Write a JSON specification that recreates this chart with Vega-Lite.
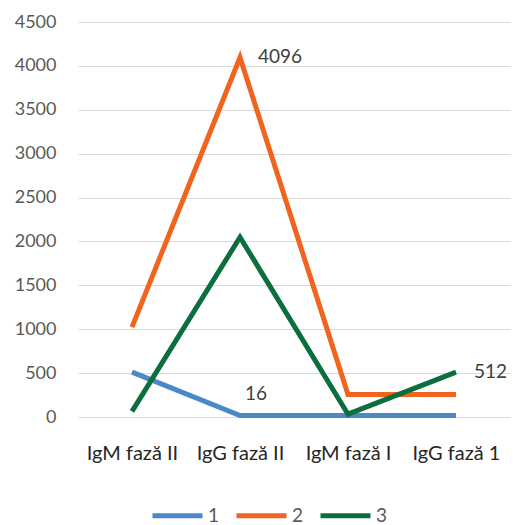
{
  "$schema": "https://vega.github.io/schema/vega-lite/v6.json",
  "autosize": "none",
  "width": 432,
  "height": 395,
  "padding": {"left": 78, "top": 22, "right": 4, "bottom": 108},
  "background": "white",
  "config": {
    "view": {"stroke": null},
    "font": "Lato",
    "axis": {"labelFont": "Lato", "titleFont": "Lato"},
    "legend": {"labelFont": "Lato"}
  },
  "data": {
    "values": [
      {"test": "IgM fază II", "series": "1", "value": 512, "label": null},
      {"test": "IgG fază II", "series": "1", "value": 16, "label": "16"},
      {"test": "IgM fază I", "series": "1", "value": 16, "label": null},
      {"test": "IgG fază 1", "series": "1", "value": 16, "label": null},
      {"test": "IgM fază II", "series": "2", "value": 1024, "label": null},
      {"test": "IgG fază II", "series": "2", "value": 4096, "label": "4096"},
      {"test": "IgM fază I", "series": "2", "value": 256, "label": null},
      {"test": "IgG fază 1", "series": "2", "value": 256, "label": null},
      {"test": "IgM fază II", "series": "3", "value": 64, "label": null},
      {"test": "IgG fază II", "series": "3", "value": 2048, "label": null},
      {"test": "IgM fază I", "series": "3", "value": 32, "label": null},
      {"test": "IgG fază 1", "series": "3", "value": 512, "label": "512"}
    ]
  },
  "encoding": {
    "x": {
      "field": "test", "type": "nominal", "sort": null,
      "scale": {"paddingInner": 0, "paddingOuter": 0},
      "axis": {"title": null, "labelAngle": 0, "domain": false, "ticks": false, "labelPadding": 36, "labelFontSize": 20, "labelColor": "#262626", "labelBaseline": "middle", "labelOverlap": false}
    },
    "y": {
      "field": "value", "type": "quantitative",
      "scale": {"domain": [0, 4500], "nice": false},
      "axis": {"title": null, "format": "d", "values": [0,500,1000,1500,2000,2500,3000,3500,4000,4500], "domain": false, "ticks": false, "labelPadding": 22, "labelFontSize": 18, "labelColor": "#595959", "gridColor": "#d9d9d9", "gridWidth": 1.2, "labelBaseline": "middle"}
    }
  },
  "layer": [
    {
      "mark": {"type": "line", "strokeWidth": 5, "strokeCap": "butt", "strokeJoin": "miter"},
      "encoding": {
        "color": {
          "field": "series", "type": "nominal",
          "scale": {"domain": ["1", "2", "3"], "range": ["#4A88C8", "#F0641E", "#0B6E3C"]},
          "legend": {
            "title": null, "orient": "none", "direction": "horizontal",
            "legendX": 72, "legendY": 466,
            "symbolType": "stroke", "symbolStrokeWidth": 5, "symbolSize": 2500, "symbolOffset": 0,
            "labelFontSize": 19, "labelColor": "#595959", "columnPadding": 6, "labelOffset": 3, "padding": 0, "offset": 0
          }
        }
      }
    },
    {
      "transform": [{"filter": "datum.label == '4096' || datum.label == '512'"}],
      "mark": {"type": "text", "align": "left", "baseline": "middle", "dx": 18, "fontSize": 19, "color": "#404040"},
      "encoding": {"text": {"field": "label"}}
    },
    {
      "transform": [{"filter": "datum.label == '16'"}],
      "mark": {"type": "text", "align": "left", "baseline": "middle", "dx": 5, "dy": -22, "fontSize": 19, "color": "#404040"},
      "encoding": {"text": {"field": "label"}}
    }
  ]
}
